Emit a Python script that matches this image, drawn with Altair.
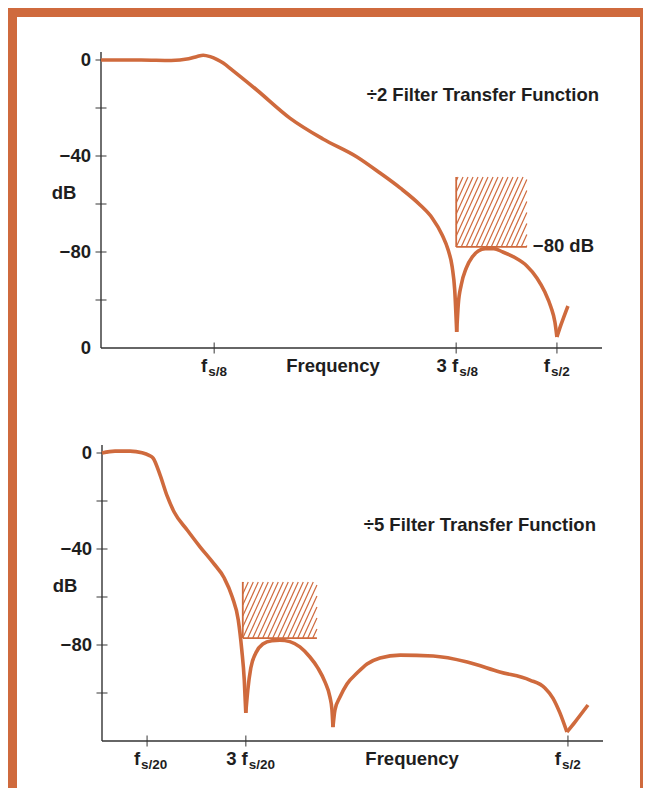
import math
import altair as alt
import pandas as pd

# ---------------- data ----------------
# frequency positions are in "axis units": 0 = origin, 100 = end of the frequency axis
top_u = [0, 8.0, 14.0, 17.5, 19.2, 20.4, 21.8, 23.2, 24.4, 26.2, 27.7, 31.1, 37.7, 44.3, 51.1,
         55.7, 59.7, 63.7, 66.1, 68.1, 69.3, 70.1, 70.6, 71.0,
         71.3, 71.9, 72.9, 74.1, 75.3, 76.7, 78.4, 80.2, 82.6, 85.0, 87.0, 88.6, 89.8, 90.6, 91.0,
         91.8, 93.2]
top_db = [0, 0, -0.2, 0.5, 1.5, 2.0, 1.4, 0.2, -1.25, -4.2, -6.7, -12.5, -24.2, -32.9, -40.4,
          -47.1, -53.3, -60.4, -65.8, -72.9, -79.2, -86.25, -95.8, -113.3,
          -102.1, -93.75, -86.7, -82.1, -79.6, -78.6, -78.6, -80.0, -82.3, -85.8, -90.8, -96.7, -102.9, -109.2, -115.4,
          -110.4, -102.5]

bot_u = [0, 2.6, 5.6, 8.0, 9.4, 10.2, 11.6, 13.0, 14.4, 17.0, 19.6, 22.2, 24.4, 26.0, 27.2, 27.9, 28.4, 28.7,
         29.1, 29.7, 30.7, 32.1, 33.9, 35.5, 37.5, 39.5, 41.5, 43.1, 44.5, 45.5, 45.9, 46.1,
         46.5, 47.5, 48.9, 50.9, 52.9, 55.5, 59.5, 66.1, 72.9, 79.4, 85.4, 88.4, 90.0, 91.4, 92.8,
         94.4, 97.0]
bot_db = [0, 0.8, 0.8, 0.1, -1.0, -2.1, -9.2, -17.9, -24.6, -32.1, -39.2, -45.8, -52.1, -60.0, -69.6, -82.1, -94.6, -108.3,
          -98.75, -89.6, -83.3, -79.6, -78.2, -78.0, -78.6, -80.8, -85.0, -89.6, -95.4, -101.7, -107.0, -114.2,
          -107.0, -101.7, -96.25, -91.7, -87.9, -85.4, -84.2, -84.6, -87.1, -91.25, -94.6, -97.9, -102.1, -108.3, -116.25,
          -112.1, -105]

top_tick_u = [22.6, 70.9, 91.0]
top_tick_pre = ["f", "3 f", "f"]
top_tick_sub = ["s/8", "s/8", "s/2"]

bot_tick_u = [9.0, 28.7, 93.0]
bot_tick_pre = ["f", "3 f", "f"]
bot_tick_sub = ["s/20", "s/20", "s/2"]

y_tick_db = [0, -20, -40, -60, -80, -100]
top_ylab_db = [0, -40, -80, -120]
top_ylab_txt = ["0", "\u221240", "\u221280", "0"]
bot_ylab_db = [0, -40, -80]
bot_ylab_txt = ["0", "\u221240", "\u221280"]

top_box = [70.9, 85.0, -77.9, -48.75]   # u0, u1, dB bottom, dB top
bot_box = [28.1, 42.9, -77.1, -53.75]

top_title = "\u00f72 Filter Transfer Function"
bot_title = "\u00f75 Filter Transfer Function"
note_text = "\u221280 dB"

# ---------------- styling / layout ----------------
ORANGE = "#cf6a3d"
INK = "#1e1e1e"
FONT = "Liberation Sans"
FS = 18.5
PX_U = 5.01     # px per axis unit
PX_DB = 2.4     # px per dB
W = 623
LEFT_PX = 17
AX_END_U = 100
AX_TOP_DB = 3.3
AX_BOT_DB = -120


def hatch_frame(box, step=5.0, slope=2.2):
    u0, u1, d0, d1 = box
    wp = (u1 - u0) * PX_U
    hp = (d1 - d0) * PX_DB
    rows = []
    k = math.ceil(-hp / slope / step)
    while k * step < wp:
        s = k * step
        if s < 0:
            x0, y0 = 0.0, -s * slope
        else:
            x0, y0 = s, 0.0
        x1, y1 = s + hp / slope, hp
        if x1 > wp:
            x1, y1 = wp, (wp - s) * slope
        if y1 - y0 > 0.5:
            rows.append({"u": u0 + x0 / PX_U, "db": d0 + y0 / PX_DB,
                         "u2": u0 + x1 / PX_U, "db2": d0 + y1 / PX_DB})
        k += 1
    return pd.DataFrame(rows)


def curve_frame(cu, cdb):
    # split the curve at its notches so each lobe is smoothed separately (sharp cusps)
    rows = []
    seg = 0
    n = len(cu)
    for i in range(n):
        rows.append({"u": cu[i], "db": cdb[i], "seg": seg, "i": i})
        is_notch = 0 < i < n - 1 and cdb[i] < cdb[i - 1] and cdb[i] < cdb[i + 1] and cdb[i] < -100
        if is_notch:
            seg += 1
            rows.append({"u": cu[i], "db": cdb[i], "seg": seg, "i": i})
    return pd.DataFrame(rows)


def panel(cu, cdb, tick_u, tick_pre, tick_sub, box, ylab_db, ylab_txt, title, title_u, title_db,
          freq_u, origin_px, zero_px, height, top_px, note=None):
    u_left = (LEFT_PX - origin_px) / PX_U
    xs = alt.Scale(domain=[u_left, u_left + W / PX_U], nice=False, zero=False)
    db_top = (zero_px - top_px) / PX_DB
    ys = alt.Scale(domain=[db_top - height / PX_DB, db_top], nice=False, zero=False)

    def X(f="u"):
        return alt.X(f"{f}:Q", scale=xs, axis=None)

    def Y(f="db"):
        return alt.Y(f"{f}:Q", scale=ys, axis=None)

    layers = []
    # hatched box
    layers.append(alt.Chart(hatch_frame(box)).mark_rule(color=ORANGE, strokeWidth=1.2).encode(
        x=X(), y=Y(), x2="u2:Q", y2="db2:Q"))
    u0, u1, d0, d1 = box
    edges = pd.DataFrame({"u": [u0, u0], "db": [d0, d0], "u2": [u0, u1], "db2": [d1, d0]})
    layers.append(alt.Chart(edges).mark_rule(color=ORANGE, strokeWidth=1.8).encode(
        x=X(), y=Y(), x2="u2:Q", y2="db2:Q"))
    # axes
    axes = pd.DataFrame({"u": [0, 0], "db": [AX_TOP_DB, AX_BOT_DB], "u2": [0, AX_END_U],
                         "db2": [AX_BOT_DB, AX_BOT_DB]})
    layers.append(alt.Chart(axes).mark_rule(color="#333333", strokeWidth=1.4).encode(
        x=X(), y=Y(), x2="u2:Q", y2="db2:Q"))
    yt = pd.DataFrame({"u": [0] * len(y_tick_db), "db": y_tick_db})
    layers.append(alt.Chart(yt).mark_tick(orient="horizontal", size=11, thickness=1.4, color="#333333").encode(
        x=X(), y=Y()))
    xt = pd.DataFrame({"u": tick_u, "db": [AX_BOT_DB] * len(tick_u)})
    layers.append(alt.Chart(xt).mark_tick(orient="vertical", size=11, thickness=1.4, color="#333333").encode(
        x=X(), y=Y()))
    # curve
    layers.append(alt.Chart(curve_frame(cu, cdb)).mark_line(
        color=ORANGE, strokeWidth=3.6, strokeJoin="round", interpolate="monotone").encode(
        x=X(), y=Y(), detail="seg:N", order="i:Q"))
    # y labels
    yl = pd.DataFrame({"u": [0] * len(ylab_db), "db": ylab_db, "t": ylab_txt})
    layers.append(alt.Chart(yl).mark_text(align="right", baseline="middle", dx=-10, font=FONT,
                                          fontWeight="bold", fontSize=FS, color=INK).encode(
        x=X(), y=Y(), text="t:N"))
    dbl = pd.DataFrame({"u": [0], "db": [-55.5], "t": ["dB"]})
    layers.append(alt.Chart(dbl).mark_text(align="center", baseline="middle", dx=-37, font=FONT,
                                           fontWeight="bold", fontSize=FS, color=INK).encode(
        x=X(), y=Y(), text="t:N"))
    # x tick labels (main part + subscript)
    tl = pd.DataFrame({"u": tick_u, "db": [AX_BOT_DB] * len(tick_u), "pre": tick_pre, "sub": tick_sub})
    for is_f, dx in ((True, -7), (False, 2)):
        part = tl[(tl["pre"] == "f") == is_f]
        if len(part) == 0:
            continue
        layers.append(alt.Chart(part).mark_text(align="right", baseline="alphabetic", dx=dx, dy=24,
                                                font=FONT, fontWeight="bold", fontSize=FS, color=INK).encode(
            x=X(), y=Y(), text="pre:N"))
        layers.append(alt.Chart(part).mark_text(align="left", baseline="alphabetic", dx=dx + 1, dy=28,
                                                font=FONT, fontWeight="bold", fontSize=13.5, color=INK).encode(
            x=X(), y=Y(), text="sub:N"))
    fl = pd.DataFrame({"u": [freq_u], "db": [AX_BOT_DB], "t": ["Frequency"]})
    layers.append(alt.Chart(fl).mark_text(align="center", baseline="alphabetic", dy=24, font=FONT,
                                          fontWeight="bold", fontSize=FS, color=INK).encode(
        x=X(), y=Y(), text="t:N"))
    # title
    tt = pd.DataFrame({"u": [title_u], "db": [title_db], "t": [title]})
    layers.append(alt.Chart(tt).mark_text(align="right", baseline="middle", font=FONT,
                                          fontWeight="bold", fontSize=FS, color=INK).encode(
        x=X(), y=Y(), text="t:N"))
    if note:
        nt = pd.DataFrame({"u": [u1], "db": [d0], "t": [note]})
        layers.append(alt.Chart(nt).mark_text(align="left", baseline="middle", dx=6, dy=-1, font=FONT,
                                              fontWeight="bold", fontSize=FS, color=INK).encode(
            x=X(), y=Y(), text="t:N"))
    return alt.layer(*layers).properties(width=W, height=height)


top = panel(top_u, top_db, top_tick_u, top_tick_pre, top_tick_sub, top_box, top_ylab_db, top_ylab_txt,
            top_title, 99.4, -14.6, 46.3, origin_px=101, zero_px=60, height=388, top_px=17, note=note_text)
bottom = panel(bot_u, bot_db, bot_tick_u, bot_tick_pre, bot_tick_sub, bot_box, bot_ylab_db, bot_ylab_txt,
               bot_title, 98.6, -30.0, 61.9, origin_px=102, zero_px=453, height=383, top_px=405)

chart = alt.vconcat(top, bottom, spacing=0, bounds="flush").properties(
    background=ORANGE,
    padding={"left": 9, "top": 9, "right": 3, "bottom": 0},
).configure_view(fill="white", stroke="transparent", strokeWidth=0)

chart.save("out.html", embed_options={"renderer": "svg", "actions": False})
